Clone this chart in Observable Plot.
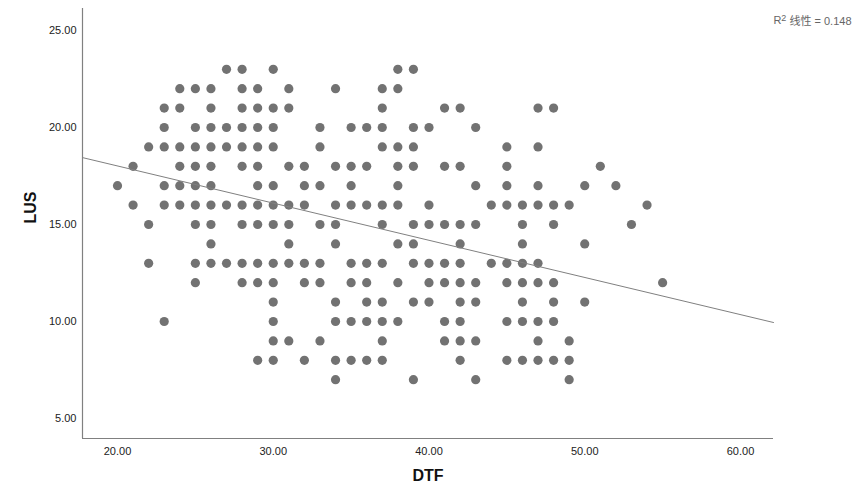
<!DOCTYPE html>
<html>
<head>
<meta charset="utf-8">
<script src="https://cdn.jsdelivr.net/npm/d3@7"></script>
<script src="https://cdn.jsdelivr.net/npm/@observablehq/plot@0.6"></script>
<style>
  html, body { margin: 0; padding: 0; background: #fff; }
  #chart { width: 854px; height: 504px; }
</style>
</head>
<body>
<div id="chart"></div>
<script>
// LUS levels (y) and the DTF values (x) observed at each level
const lusLevels = [23, 22, 21, 20, 19, 18, 17, 16, 15, 14, 13, 12, 11, 10, 9, 8, 7];
const dtfAtLevel = [
  [27, 28, 30, 38, 39],
  [24, 25, 26, 28, 29, 31, 34, 37, 38],
  [23, 24, 26, 28, 29, 30, 31, 37, 41, 42, 47, 48],
  [23, 25, 26, 27, 28, 29, 30, 33, 35, 36, 37, 39, 40, 43],
  [22, 23, 24, 25, 26, 27, 28, 29, 30, 33, 37, 38, 39, 45, 47],
  [21, 24, 25, 26, 28, 29, 31, 32, 34, 35, 36, 38, 39, 41, 42, 45, 51],
  [20, 23, 24, 25, 26, 29, 30, 32, 33, 35, 38, 43, 45, 47, 50, 52],
  [21, 23, 24, 25, 26, 27, 28, 29, 30, 31, 32, 34, 35, 36, 37, 38, 40, 44, 45, 46, 47, 48, 49, 54],
  [22, 25, 26, 28, 29, 30, 31, 33, 34, 37, 39, 40, 41, 42, 43, 46, 48, 53],
  [26, 31, 34, 38, 39, 42, 46, 50],
  [22, 25, 26, 27, 28, 29, 30, 31, 32, 33, 35, 36, 37, 39, 40, 41, 42, 44, 45, 46, 47],
  [25, 28, 29, 30, 32, 33, 35, 36, 38, 40, 41, 42, 43, 45, 46, 47, 48, 55],
  [30, 34, 36, 37, 39, 40, 42, 43, 46, 48, 50],
  [23, 30, 34, 35, 36, 37, 38, 41, 42, 45, 46, 47, 48],
  [30, 31, 33, 37, 41, 42, 43, 47, 49],
  [29, 30, 32, 34, 35, 36, 37, 42, 45, 46, 47, 48, 49],
  [34, 39, 43, 49]
];
const xTicks = [20, 30, 40, 50, 60];
const yTicks = [5, 10, 15, 20, 25];
// linear fit (SPSS fit line, R² = 0.148)
const fitIntercept = 21.85;
const fitSlope = -0.1916;
const r2Prefix = "R";
const r2Sup = "2";
const r2Rest = " 线性 = 0.148";
const xTitle = "DTF";
const yTitle = "LUS";

const points = lusLevels.flatMap((lus, i) => dtfAtLevel[i].map(dtf => ({dtf, lus})));

const xDomain = [17.753, 62.12];
const yDomain = [3.969, 26.134];
const fitLine = xDomain.map(x => ({x, y: fitIntercept + fitSlope * x}));

const font = "'Liberation Sans', Arial, 'Noto Sans CJK SC', sans-serif";

const chart = Plot.plot({
  width: 854,
  height: 504,
  marginLeft: 82,
  marginRight: 81,
  marginTop: 8,
  marginBottom: 66,
  style: {fontFamily: font, fontSize: "11px", color: "#222", background: "#fff"},
  x: {domain: xDomain, ticks: xTicks, tickFormat: d3.format(".2f")},
  y: {domain: yDomain, ticks: yTicks, tickFormat: d3.format(".2f")},
  marks: [
    Plot.axisX({ticks: xTicks, tickFormat: d3.format(".2f"), tickSize: 0, tickPadding: 9, label: null, fontSize: 11, fill: "#222"}),
    Plot.axisY({ticks: yTicks, tickFormat: d3.format(".2f"), tickSize: 0, tickPadding: 6, label: null, fontSize: 11, fill: "#222"}),
    Plot.ruleX([xDomain[0]], {stroke: "#808080", strokeWidth: 1.2}),
    Plot.ruleY([yDomain[0]], {stroke: "#808080", strokeWidth: 1.2}),
    Plot.dot(points, {x: "dtf", y: "lus", r: 4.6, fill: "#727272", stroke: "none"}),
    Plot.line(fitLine, {x: "x", y: "y", stroke: "#808080", strokeWidth: 1}),
    Plot.text([yTitle], {frameAnchor: "left", dx: -52, rotate: -90, fontSize: 16, fontWeight: "bold", fill: "#111"}),
    Plot.text([xTitle], {frameAnchor: "bottom", dy: 42, fontSize: 16, fontWeight: "bold", fill: "#111"}),
    Plot.text([r2Prefix + r2Sup + r2Rest], {frameAnchor: "top-right", dx: 78, dy: 8, textAnchor: "end", fontSize: 11, fill: "#666", className: "r2label"})
  ]
});
document.getElementById("chart").appendChild(chart);

// render the "2" of R² as a real superscript
const r2Text = chart.querySelector(".r2label text");
if (r2Text) {
  r2Text.textContent = "";
  const ns = "http://www.w3.org/2000/svg";
  const t1 = document.createElementNS(ns, "tspan"); t1.textContent = r2Prefix;
  const t2 = document.createElementNS(ns, "tspan"); t2.textContent = r2Sup;
  t2.setAttribute("dy", "-0.4em"); t2.setAttribute("font-size", "9");
  const t3 = document.createElementNS(ns, "tspan"); t3.textContent = r2Rest;
  t3.setAttribute("dy", "0.4em");
  r2Text.append(t1, t2, t3);
}
</script>
</body>
</html>
